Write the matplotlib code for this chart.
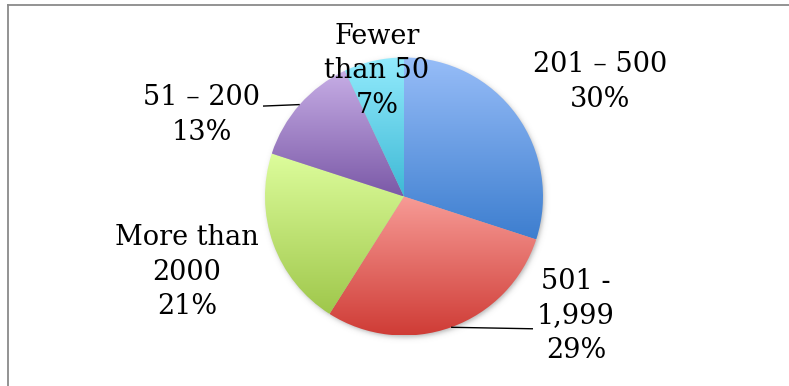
import numpy as np
import matplotlib
matplotlib.use("Agg")
import matplotlib.pyplot as plt
from matplotlib.colors import LinearSegmentedColormap

# company size breakdown
labels = ["201 \u2013 500", "501 -\n1,999", "More than\n2000", "51 \u2013 200", "Fewer\nthan 50"]
shares = [30, 29, 21, 13, 7]

# top / bottom colours of each slice gradient
grad_top = ["#97bdf8", "#f79b96", "#ddfd9c", "#c7aee6", "#93ebfd"]
grad_bot = ["#3d7ecf", "#cf3c36", "#9fc74b", "#7b59a7", "#3eb9d5"]

W, H = 789, 386
fig = plt.figure(figsize=(W / 100, H / 100), dpi=100)
ax = fig.add_axes([0, 0, 1, 1])

cx, cy, R = 404, H - 196.5, 139

# soft drop shadow under the pie
xs = np.linspace(cx - R - 20, cx + R + 20, 400)
ys = np.linspace(cy - R - 20, cy + R + 20, 400)
gx, gy = np.meshgrid(xs, ys)
d = np.hypot(gx - (cx + 1.5), gy - (cy - 2.5))
sh = np.zeros(gx.shape + (4,))
sh[..., :3] = 0.35
sh[..., 3] = 0.45 * 0.5 * (1 - np.tanh((d - R) / 3.0))
ax.imshow(sh, extent=[xs[0], xs[-1], ys[0], ys[-1]], origin="lower", zorder=1,
          interpolation="bilinear")

wedges, _ = ax.pie(shares, center=(cx, cy), radius=R, startangle=90,
                   counterclock=False, frame=True,
                   wedgeprops=dict(facecolor="none", edgecolor="none"))

for w, c0, c1 in zip(wedges, grad_top, grad_bot):
    ext = w.get_path().get_extents()
    cmap = LinearSegmentedColormap.from_list("g", [c0, c1])
    g = np.linspace(0, 1, 256)[:, None] * np.ones((1, 4))
    im = ax.imshow(g, cmap=cmap, vmin=0, vmax=1, aspect="auto",
                   extent=[ext.x0, ext.x1, ext.y0, ext.y1], origin="upper",
                   zorder=2, interpolation="bilinear")
    im.set_clip_path(w)

# label centres in pixel coords (y from top)
label_xy = [(600, 82), (576, 316), (187, 272), (202, 115), (377, 71)]
font = dict(family="DejaVu Serif", size=19.5, color="black")
for lab, s, (lx, ly) in zip(labels, shares, label_xy):
    ax.text(lx, H - ly, f"{lab}\n{s}%", ha="center", va="center",
            multialignment="center", linespacing=1.38, zorder=5, **font)

# leader lines from slice edge midpoint to the label
leaders = {1: 533, 3: 263}
for i, x_end in leaders.items():
    w = wedges[i]
    mid = np.deg2rad((w.theta1 + w.theta2) / 2)
    px, py = cx + R * np.cos(mid), cy + R * np.sin(mid)
    ax.plot([px, x_end], [py, py - 1.5], color="black",
            lw=1.0, zorder=4, solid_capstyle="butt")

# chart frame (left and top edges visible)
ax.plot([8, 8], [0, H - 5], color="#8a8a8a", lw=1.3, zorder=6)
ax.plot([8, W], [H - 5, H - 5], color="#8a8a8a", lw=1.3, zorder=6)

ax.set_xlim(0, W)
ax.set_ylim(0, H)
ax.set_aspect("equal")
ax.axis("off")

fig.savefig("out.png", dpi=100, facecolor="white")
